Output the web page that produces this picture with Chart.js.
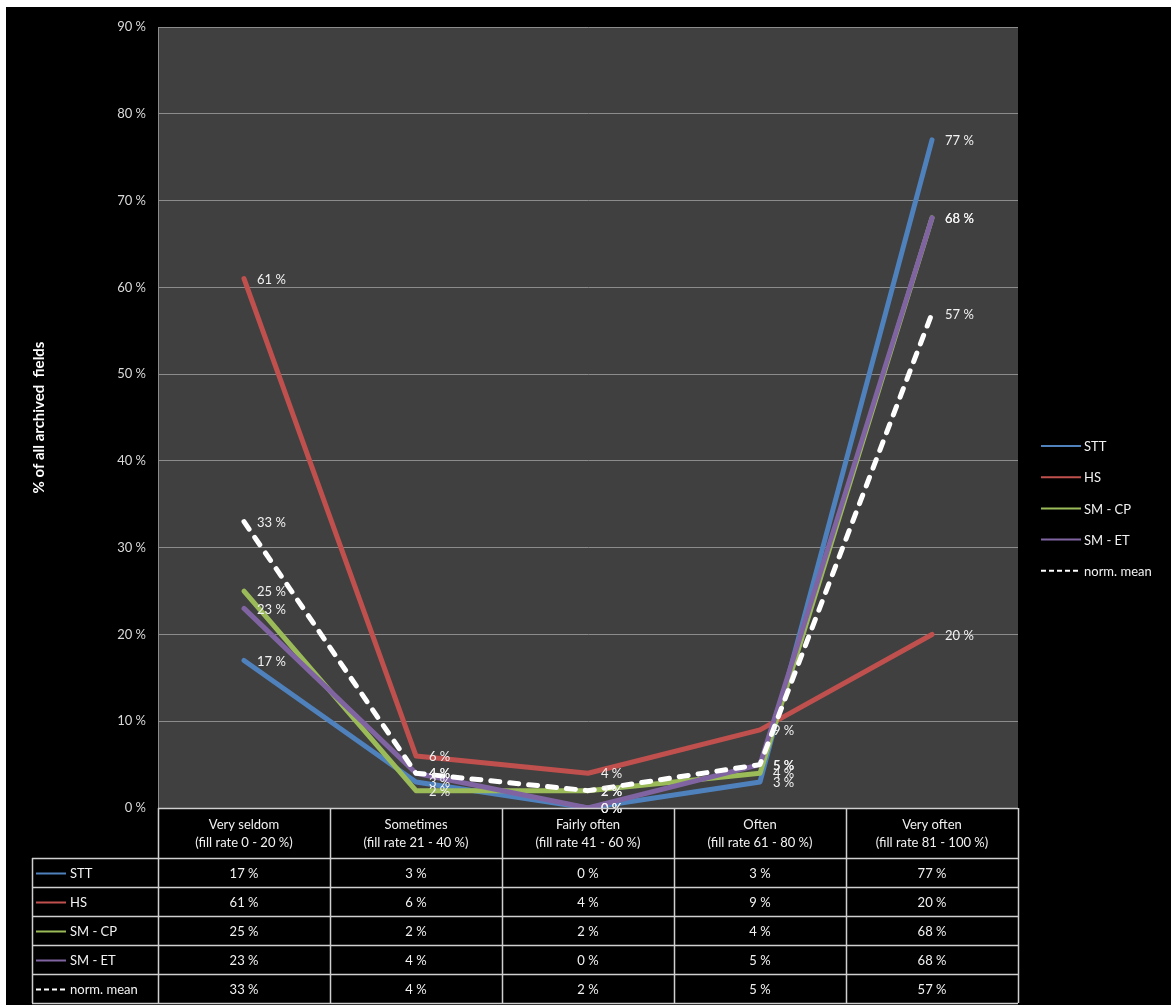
<!DOCTYPE html>
<html>
<head>
<meta charset="utf-8">
<title>Fill rate of archived fields</title>
<script src="https://cdn.jsdelivr.net/npm/chart.js@4.4.1/dist/chart.umd.min.js"></script>
<style>
  html, body { margin: 0; padding: 0; background: #ffffff; width: 1171px; height: 1005px; overflow: hidden; }
  #frame { position: absolute; left: 6px; top: 7px; width: 1165px; height: 998px; background: #000000; }
  #c { position: absolute; left: 0; top: 0; }
</style>
</head>
<body>
<div id="frame"></div>
<canvas id="c" width="1171" height="1005"></canvas>
<script>
// Fill-rate categories (x axis, two-line labels)
const categories = [
  ['Very seldom', '(fill rate 0 - 20 %)'],
  ['Sometimes', '(fill rate 21 - 40 %)'],
  ['Fairly often', '(fill rate 41 - 60 %)'],
  ['Often', '(fill rate 61 - 80 %)'],
  ['Very often', '(fill rate 81 - 100 %)']
];

// Series names and their values (% of all archived fields)
const seriesNames = ['STT', 'HS', 'SM - CP', 'SM - ET', 'norm. mean'];
const sttValues = [17, 3, 0, 3, 77];
const hsValues = [61, 6, 4, 9, 20];
const smCpValues = [25, 2, 2, 4, 68];
const smEtValues = [23, 4, 0, 5, 68];
const normMeanValues = [33, 4, 2, 5, 57];

// Y axis tick values
const yTickValues = [0, 10, 20, 30, 40, 50, 60, 70, 80, 90];

const seriesColors = ['#4f81bd', '#c0504d', '#9bbb59', '#8064a2', '#ffffff'];
const seriesDashes = [[], [], [], [], [9, 10]];
const seriesValues = [sttValues, hsValues, smCpValues, smEtValues, normMeanValues];

const FONT = "Lato, 'Open Sans', sans-serif";
const TEXT = '#f2f2f2';
const TABLE_LINE = '#cfcfcf';
const TEXT_SIZE = 13;

const pct = v => v + ' %';

const datasets = seriesNames.map((name, i) => ({
  label: name,
  data: seriesValues[i],
  borderColor: seriesColors[i],
  backgroundColor: seriesColors[i],
  borderWidth: 5,
  borderDash: seriesDashes[i],
  borderCapStyle: 'round',
  borderJoinStyle: 'round',
  pointRadius: 0,
  pointHoverRadius: 0,
  tension: 0,
  fill: false,
  // later series are painted over earlier ones
  order: seriesNames.length - i
}));

// Dark plot background
const plotBackground = {
  id: 'plotBackground',
  beforeDraw(chart) {
    const { ctx, chartArea: a } = chart;
    ctx.save();
    ctx.fillStyle = '#404040';
    ctx.fillRect(a.left, a.top, a.right - a.left, a.bottom - a.top);
    ctx.restore();
  }
};

// Value labels to the right of each point
const pointLabels = {
  id: 'pointLabels',
  afterDatasetsDraw(chart) {
    const { ctx } = chart;
    ctx.save();
    ctx.font = TEXT_SIZE + 'px ' + FONT;
    ctx.fillStyle = TEXT;
    ctx.textAlign = 'left';
    ctx.textBaseline = 'middle';
    chart.data.datasets.forEach((ds, di) => {
      const meta = chart.getDatasetMeta(di);
      meta.data.forEach((pt, j) => {
        ctx.fillText(pct(ds.data[j]), pt.x + 13, pt.y + 1);
      });
    });
    ctx.restore();
  }
};

function drawSample(ctx, x1, x2, y, color, dash) {
  ctx.save();
  ctx.strokeStyle = color;
  ctx.lineWidth = 2;
  ctx.setLineDash(dash.length ? [5, 3] : []);
  ctx.beginPath();
  ctx.moveTo(x1, y);
  ctx.lineTo(x2, y);
  ctx.stroke();
  ctx.restore();
}

// Data table under the plot and legend on the right
const dataTableAndLegend = {
  id: 'dataTableAndLegend',
  afterDraw(chart) {
    const { ctx, chartArea: a } = chart;
    const xs = chart.scales.x;
    const n = categories.length;
    const colW = (a.right - a.left) / n;
    const headerH = 50;
    const rowH = 29;
    const tableLeft = 32;
    const rowsTop = a.bottom + headerH;
    const tableBottom = rowsTop + rowH * seriesNames.length;

    ctx.save();
    ctx.strokeStyle = TABLE_LINE;
    ctx.lineWidth = 1.5;
    ctx.beginPath();
    // header top
    ctx.moveTo(a.left, a.bottom + 0.5);
    ctx.lineTo(a.right, a.bottom + 0.5);
    // column separators
    for (let i = 0; i <= n; i++) {
      const x = Math.round(a.left + i * colW) + 0.5;
      ctx.moveTo(x, a.bottom);
      ctx.lineTo(x, tableBottom);
    }
    // row separators
    for (let r = 0; r <= seriesNames.length; r++) {
      const y = Math.round(rowsTop + r * rowH) + 0.5;
      ctx.moveTo(tableLeft, y);
      ctx.lineTo(a.right, y);
    }
    ctx.moveTo(tableLeft + 0.5, rowsTop);
    ctx.lineTo(tableLeft + 0.5, tableBottom);
    ctx.stroke();

    ctx.font = TEXT_SIZE + 'px ' + FONT;
    ctx.fillStyle = TEXT;
    ctx.textBaseline = 'middle';
    seriesNames.forEach((name, r) => {
      const cy = rowsTop + r * rowH + rowH / 2 + 1;
      drawSample(ctx, tableLeft + 4, tableLeft + 34, cy, seriesColors[r], seriesDashes[r]);
      ctx.textAlign = 'left';
      ctx.fillStyle = TEXT;
      ctx.fillText(name, tableLeft + 38, cy);
      ctx.textAlign = 'center';
      seriesValues[r].forEach((v, j) => {
        ctx.fillText(pct(v), xs.getPixelForValue(j), cy);
      });
    });

    // legend
    const lx = 1041;
    const ly0 = 446;
    const lstep = 31.2;
    seriesNames.forEach((name, r) => {
      const y = ly0 + r * lstep;
      drawSample(ctx, lx, lx + 40, y, seriesColors[r], seriesDashes[r]);
      ctx.textAlign = 'left';
      ctx.fillStyle = TEXT;
      ctx.fillText(name, lx + 43, y + 1);
    });
    ctx.restore();
  }
};

new Chart(document.getElementById('c'), {
  type: 'line',
  data: { labels: categories, datasets },
  plugins: [plotBackground, pointLabels, dataTableAndLegend],
  options: {
    responsive: false,
    devicePixelRatio: 1,
    animation: false,
    events: [],
    layout: { padding: { top: 27, right: 153, bottom: 0, left: 0 } },
    plugins: {
      legend: { display: false },
      tooltip: { enabled: false },
      title: { display: false }
    },
    scales: {
      x: {
        type: 'category',
        offset: true,
        afterFit(scale) { scale.height = 1005 - 808; },
        grid: { display: false, drawTicks: false },
        border: { display: false },
        ticks: {
          color: TEXT,
          font: { family: FONT, size: TEXT_SIZE, lineHeight: '18px' },
          padding: 8,
          maxRotation: 0,
          autoSkip: false
        }
      },
      y: {
        min: 0,
        max: 90,
        afterFit(scale) { scale.width = 158; },
        afterBuildTicks(scale) { scale.ticks = yTickValues.map(v => ({ value: v })); },
        grid: { color: '#8c8c8c', lineWidth: 1, drawTicks: false },
        border: { display: true, color: '#8c8c8c', width: 1 },
        ticks: {
          color: '#d9d9d9',
          font: { family: FONT, size: TEXT_SIZE },
          padding: 12,
          callback: v => pct(v)
        },
        title: {
          display: true,
          text: '% of all archived  fields',
          color: '#ffffff',
          font: { family: FONT, size: 15, weight: 'bold' },
          padding: { top: 30, bottom: 0 }
        }
      }
    }
  }
});
</script>
</body>
</html>
